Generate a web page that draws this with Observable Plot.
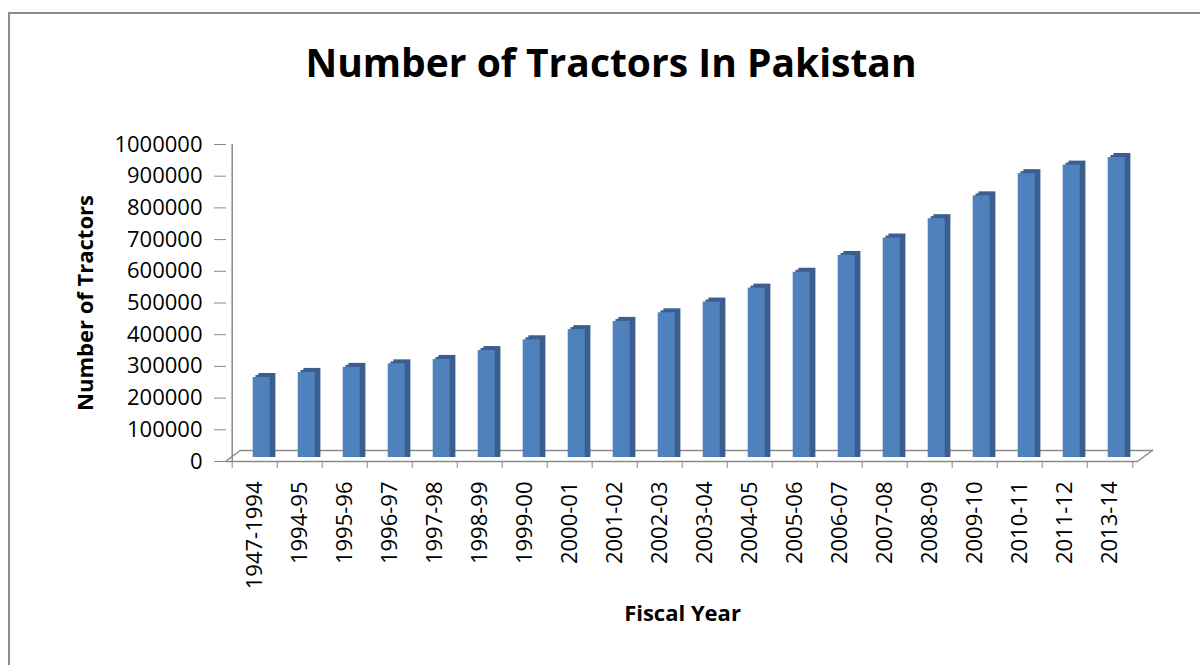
<!DOCTYPE html>
<html>
<head>
<meta charset="utf-8">
<script src="https://cdn.jsdelivr.net/npm/d3@7"></script>
<script src="https://cdn.jsdelivr.net/npm/@observablehq/plot@0.6"></script>
<style>
  html, body { margin: 0; padding: 0; background: #fff; }
  body { width: 1200px; height: 665px; overflow: hidden; position: relative; font-family: "Open Sans", sans-serif; }
  #border { position: absolute; left: 8px; top: 12px; width: 1300px; height: 800px;
            border-left: 2px solid #8c8c8c; border-top: 2px solid #8c8c8c; box-sizing: border-box; }
  #title { position: relative; height: 63px; padding-top: 37px; line-height: 50px; text-align: center;
           font-weight: 700; font-size: 39px; color: #000; margin-left: 22px; }
  #chart { position: relative; }
</style>
</head>
<body>
<div id="border"></div>
<div id="title">Number of Tractors In Pakistan</div>
<div id="chart"></div>
<script>
const years = ["1947-1994","1994-95","1995-96","1996-97","1997-98","1998-99","1999-00","2000-01","2001-02","2002-03",
               "2003-04","2004-05","2005-06","2006-07","2007-08","2008-09","2009-10","2010-11","2011-12","2013-14"];
const tractors = [265000,281000,297000,308000,322000,350000,384000,416000,442000,469000,
                  503000,547000,597000,650000,705000,766000,838000,908000,935000,959000];
const yTicks = [0,100000,200000,300000,400000,500000,600000,700000,800000,900000,1000000];
const xTitle = "Fiscal Year";
const yTitle = "Number of Tractors";

const data = years.map((year, i) => ({year, value: tractors[i]}));

const W = 1200, H = 565;
const mL = 226, mR = 62, mT = 44, mB = 204;
const step = (W - mL - mR) / years.length;
const half = step / 2;
const gray = "#8a8a8a";
const front = "#4F81BD", dark = "#3A5F8F";

// 3D floor diagonals drawn from the scales
function floorEdges(index, scales, values, dim) {
  const g = d3.create("svg:g");
  const y0 = scales.y(0);
  const xl = dim.marginLeft, xr = dim.width - dim.marginRight;
  [xl, xr].forEach(x => {
    g.append("line").attr("x1", x).attr("y1", y0).attr("x2", x + 15).attr("y2", y0 - 11)
      .attr("stroke", gray).attr("stroke-width", 1.5);
  });
  return g.node();
}

const chart = Plot.plot({
  width: W, height: H,
  marginLeft: mL, marginRight: mR, marginTop: mT, marginBottom: mB,
  style: {fontFamily: "Open Sans", fontSize: "22px", color: "#000", background: "transparent"},
  x: {domain: years, paddingInner: 0.614, paddingOuter: 0.307},
  y: {domain: [0, 1000000]},
  marks: [
    Plot.ruleY([0], {stroke: gray, strokeWidth: 1.5}),
    Plot.ruleY([0], {stroke: gray, strokeWidth: 1.5, dx: 15, dy: -11}),
    floorEdges,
    Plot.ruleX([years[0]], {x: d => d, y1: () => 0, y2: () => 1000000, dx: -half, stroke: gray, strokeWidth: 1.5}),
    Plot.axisY(yTicks, {tickSize: 12, tickPadding: 12, stroke: gray, fill: "#000", tickFormat: d3.format("d"),
                        label: null, fontSize: 22}),
    Plot.axisX({tickSize: 7, tickFormat: () => "", dx: -half, stroke: gray, label: null}),
    Plot.axisX([years[years.length - 1]], {tickSize: 7, tickFormat: () => "", dx: half, stroke: gray, label: null}),
    Plot.axisX({tickSize: 0, tickPadding: 20, tickRotate: -90, label: null, fill: "#000", fontSize: 22}),
    Plot.barY(data, {x: "year", y: "value", fill: dark, dx: 12.4, dy: -4}),
    Plot.barY(data, {x: "year", y: "value", fill: dark, dx: 9.5, dy: -2, insetBottom: 2}),
    Plot.barY(data, {x: "year", y: "value", fill: front, dx: 6.7, insetBottom: 4}),
    Plot.text([xTitle], {text: d => d, frameAnchor: "bottom", dy: 159, fontWeight: 700, fontSize: 22}),
    Plot.text([yTitle], {text: d => d, frameAnchor: "left", textAnchor: "middle", dx: -141, rotate: -90,
                         fontWeight: 700, fontSize: 22})
  ]
});
document.getElementById("chart").appendChild(chart);
</script>
</body>
</html>
